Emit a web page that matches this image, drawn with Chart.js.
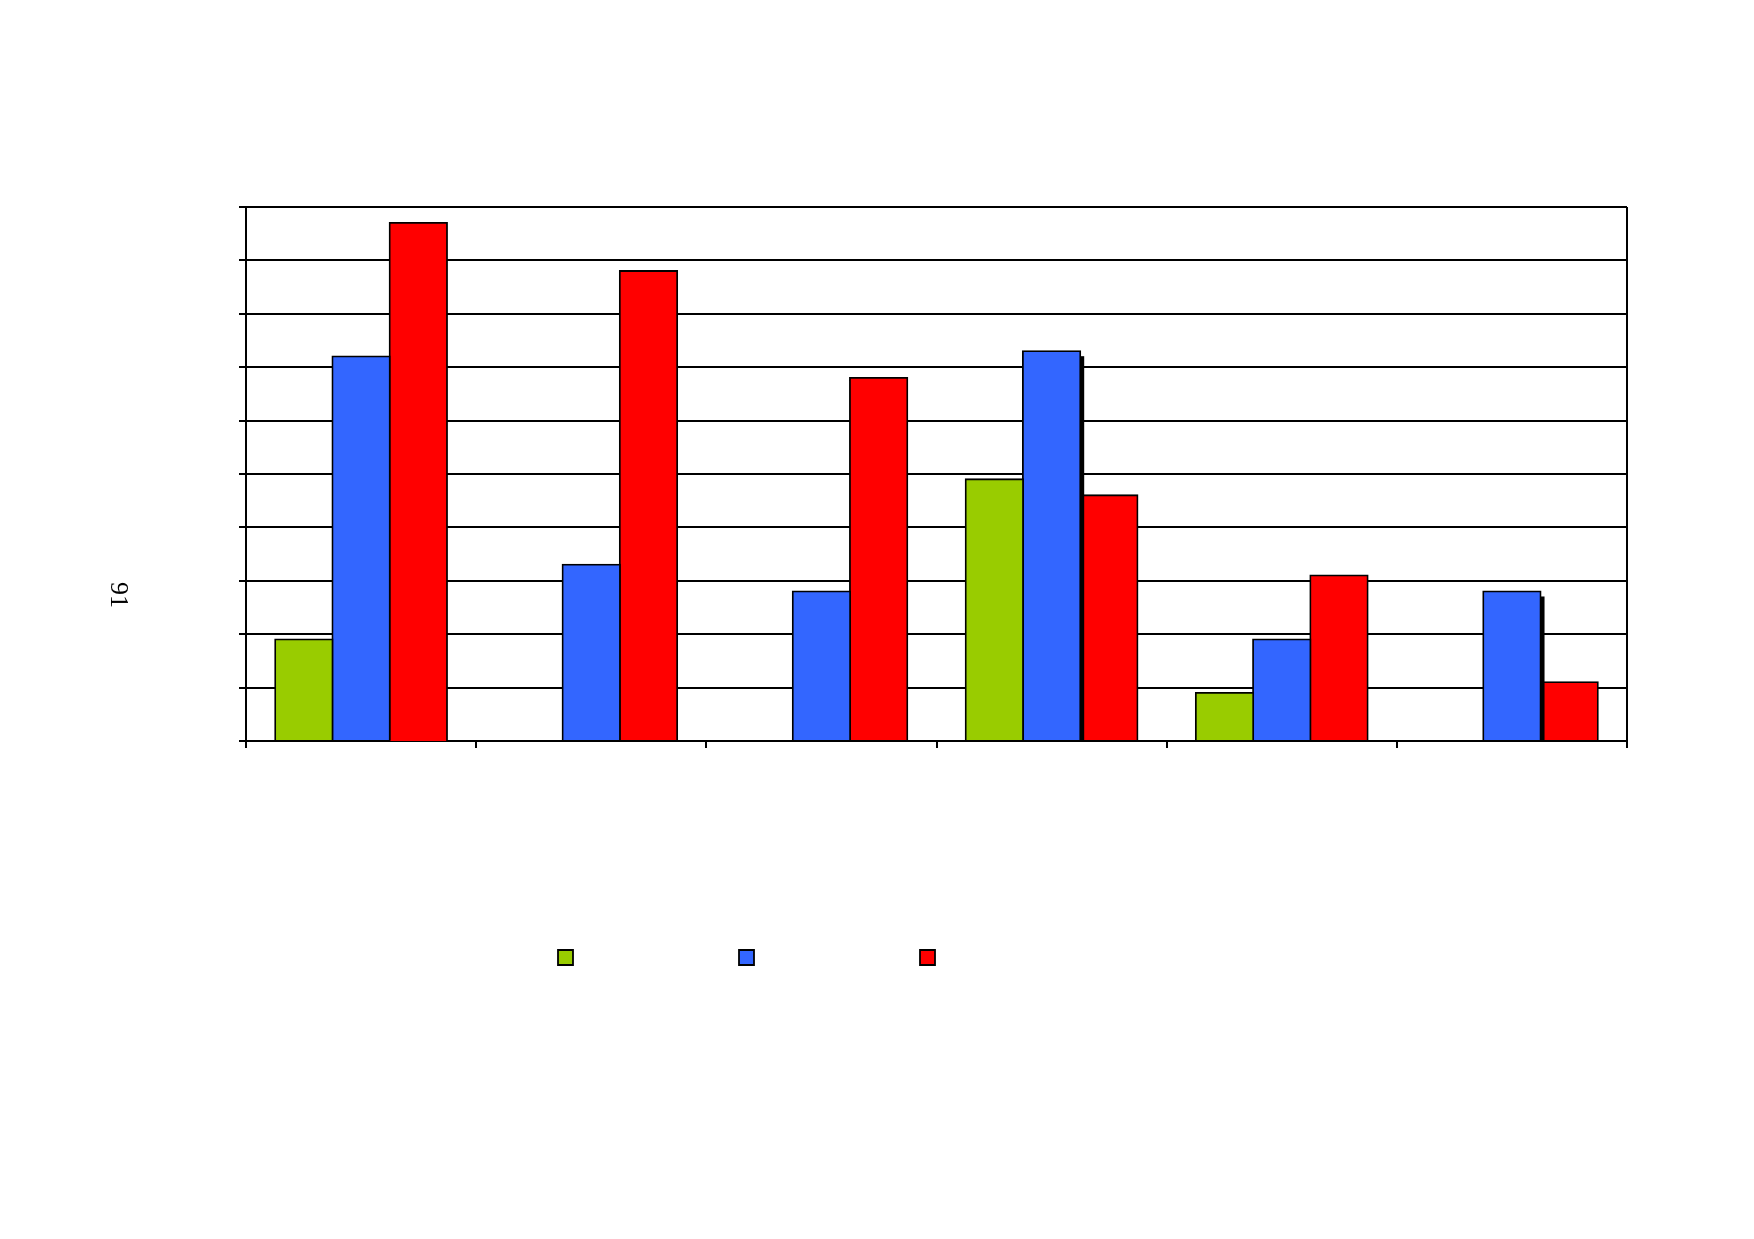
<!DOCTYPE html>
<html>
<head>
<meta charset="utf-8">
<script src="https://cdn.jsdelivr.net/npm/chart.js@4/dist/chart.umd.min.js"></script>
<style>
html, body { margin: 0; padding: 0; background: #fff; overflow: hidden; }
#wrap { position: relative; width: 1754px; height: 1239px; }
#c { position: absolute; left: 0; top: 0; }
#pg { position: absolute; left: 119px; top: 595px; transform: translate(-50%, -50%) rotate(90deg);
      font-family: "Liberation Serif", "DejaVu Serif", serif; font-size: 26px; color: #000; line-height: 1; }
</style>
</head>
<body>
<div id="wrap">
  <canvas id="c" width="1754" height="1239" style="width:1754px;height:1239px"></canvas>
  <div id="pg">91</div>
</div>
<script>
// ---- data ----
const categories = ['1', '2', '3', '4', '5', '6'];
const seriesNames = ['', '', ''];
const greenValues = [1.9, null, null, 4.9, 0.9, null];
const blueValues  = [7.2, 3.3, 2.8, 7.3, 1.9, 2.8];
const redValues   = [9.7, 8.8, 6.8, 4.6, 3.1, 1.1];
const yMin = 0, yMax = 10, yStep = 1;
// bars of the blue series that show a dark edge on their right side in the source
const shadowedBlue = [3, 5];

const legendPlacer = {
  id: 'legendPlacer',
  afterLayout(chart) {
    const lg = chart.legend;
    if (!lg) return;
    const ca = chart.chartArea;
    lg.left = ca.left + 152;
    lg.right = chart.width;
    lg.top = ca.bottom + 49;
    lg.bottom = chart.height;
    lg.width = lg.right - lg.left;
    lg.height = lg.bottom - lg.top;
  }
};

const barShadow = {
  id: 'barShadow',
  beforeDatasetDraw(chart, args) {
    if (args.index !== 1) return;
    const meta = chart.getDatasetMeta(1);
    const ctx = chart.ctx;
    ctx.save();
    ctx.fillStyle = '#000';
    shadowedBlue.forEach(i => {
      const el = meta.data[i];
      if (!el) return;
      const p = el.getProps(['x', 'y', 'base', 'width'], true);
      ctx.fillRect(p.x + p.width / 2 - 1, p.y + 5, 5, p.base - p.y - 5);
    });
    ctx.restore();
  }
};

new Chart(document.getElementById('c'), {
  type: 'bar',
  data: {
    labels: categories,
    datasets: [
      { label: seriesNames[0], data: greenValues, backgroundColor: '#99CC00', borderColor: '#000', borderWidth: 1.8, inflateAmount: 1 },
      { label: seriesNames[1], data: blueValues,  backgroundColor: '#3366FF', borderColor: '#000', borderWidth: 1.8, inflateAmount: 1 },
      { label: seriesNames[2], data: redValues,   backgroundColor: '#FF0000', borderColor: '#000', borderWidth: 1.8, inflateAmount: 1 }
    ]
  },
  options: {
    responsive: false,
    animation: false,
    devicePixelRatio: 1,
    layout: { padding: { left: 239, right: 127, top: 207, bottom: 461 } },
    datasets: { bar: { categoryPercentage: 0.746, barPercentage: 1.0 } },
    scales: {
      x: {
        offset: true,
        grid: {
          offset: true,
          drawOnChartArea: true,
          color: c => (c.tick ? 'rgba(0,0,0,0)' : '#000'),
          tickColor: '#000',
          lineWidth: 2,
          tickLength: 7,
          drawTicks: true
        },
        border: { display: true, color: '#000', width: 2 },
        ticks: { display: false }
      },
      y: {
        min: yMin, max: yMax,
        ticks: { display: false, stepSize: yStep },
        grid: { color: '#000', lineWidth: 2, tickLength: 7, drawTicks: true },
        border: { display: true, color: '#000', width: 2 }
      }
    },
    plugins: {
      legend: {
        position: 'bottom',
        align: 'start',
        maxHeight: 30,
        labels: { boxWidth: 15, boxHeight: 15, padding: 160, color: '#000', font: { size: 12 } }
      },
      tooltip: { enabled: false },
      title: { display: false }
    }
  },
  plugins: [legendPlacer, barShadow]
});
</script>
</body>
</html>
